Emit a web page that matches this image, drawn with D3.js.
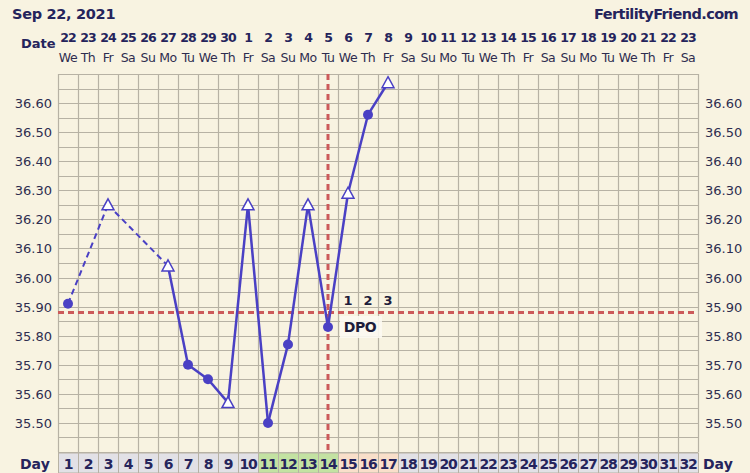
<!DOCTYPE html>
<html>
<head>
<meta charset="utf-8">
<script src="https://cdn.jsdelivr.net/npm/d3@7"></script>
<style>
  body { margin: 0; background: #f8f3e1; }
  svg { display: block; font-family: Verdana, "DejaVu Sans", sans-serif; }
</style>
</head>
<body>
<div id="chart"></div>
<script>
// chart data
const days = d3.range(1, 33);
const dateNums = ["22","23","24","25","26","27","28","29","30","1","2","3","4","5","6","7","8","9","10","11","12","13","14","15","16","17","18","19","20","21","22","23"];
const weekdays = ["We","Th","Fr","Sa","Su","Mo","Tu","We","Th","Fr","Sa","Su","Mo","Tu","We","Th","Fr","Sa","Su","Mo","Tu","We","Th","Fr","Sa","Su","Mo","Tu","We","Th","Fr","Sa"];
const tempDays = [1, 3, 6, 7, 8, 9, 10, 11, 12, 13, 14, 15, 16, 17];
const temps = [35.91, 36.25, 36.04, 35.70, 35.65, 35.57, 36.25, 35.50, 35.77, 36.25, 35.83, 36.29, 36.56, 36.67];
const markers = ["dot", "tri", "tri", "dot", "dot", "tri", "tri", "dot", "dot", "tri", "dot", "tri", "dot", "tri"];
const yTicks = [35.5, 35.6, 35.7, 35.8, 35.9, 36.0, 36.1, 36.2, 36.3, 36.4, 36.5, 36.6];
const coverline = 35.88;
const ovulationDay = 14;
const dpoDays = [15, 16, 17];
const dpoLabels = ["1", "2", "3"];
const fertileDays = [11, 12, 13, 14];

const width = 750, height = 473;
const navy = "#25245c";
const lineColor = "#4a40c4";
const red = "#cc5a5a";

const svg = d3.select("#chart").append("svg").attr("width", width).attr("height", height);
svg.append("rect").attr("width", width).attr("height", height).attr("fill", "#f8f3e1");

const x = d3.scaleBand().domain(days).range([58, 698]);
const y = d3.scaleLinear().domain([35.40, 36.70]).range([452, 74]);

// grid
const grid = svg.append("g").attr("stroke", "#b7b2a4").attr("stroke-width", 1.2);
d3.range(0, 33).forEach(i => {
  const gx = 58 + i * x.bandwidth() + 0.5;
  grid.append("line").attr("x1", gx).attr("x2", gx).attr("y1", 74).attr("y2", 452);
});
d3.range(35.40, 36.701, 0.05).forEach(v => {
  const gy = Math.round(y(v)) + 0.5;
  grid.append("line").attr("x1", 58).attr("x2", 698).attr("y1", gy).attr("y2", gy);
});

// y labels both sides
yTicks.forEach(v => {
  svg.append("text").attr("x", 52).attr("y", y(v) + 5).attr("text-anchor", "end")
    .attr("font-size", 13).attr("fill", "#2e2d4f").text(v.toFixed(2));
  svg.append("text").attr("x", 705).attr("y", y(v) + 5)
    .attr("font-size", 13).attr("fill", "#2e2d4f").text(v.toFixed(2));
});

// header
svg.append("text").attr("x", 12).attr("y", 19).attr("font-size", 14.5).attr("font-weight", "bold")
  .attr("letter-spacing", -0.3).attr("fill", navy).text("Sep 22, 2021");
svg.append("text").attr("x", 738).attr("y", 19).attr("font-size", 14.5).attr("font-weight", "bold")
  .attr("letter-spacing", -0.6).attr("text-anchor", "end").attr("fill", navy).text("FertilityFriend.com");
svg.append("text").attr("x", 21).attr("y", 48).attr("font-size", 13).attr("font-weight", "bold")
  .attr("fill", navy).text("Date");
days.forEach((d, i) => {
  const cx = x(d) + x.bandwidth() / 2;
  svg.append("text").attr("x", cx).attr("y", 42).attr("text-anchor", "middle")
    .attr("font-size", 12.5).attr("font-weight", "bold").attr("letter-spacing", -1).attr("fill", navy).text(dateNums[i]);
  svg.append("text").attr("x", cx).attr("y", 62).attr("text-anchor", "middle")
    .attr("font-size", 12.5).attr("letter-spacing", -0.5).attr("fill", "#2e2d4f").text(weekdays[i]);
});

// day row
days.forEach(d => {
  let fill = "#e2e1e6";
  if (fertileDays.includes(d)) fill = "#c3e2a2";
  else if (dpoDays.includes(d)) fill = "#f9dfca";
  svg.append("rect").attr("x", x(d) + 0.5).attr("y", 453).attr("width", x.bandwidth()).attr("height", 20)
    .attr("fill", fill).attr("stroke", "#b7b2a4");
  svg.append("text").attr("x", x(d) + x.bandwidth() / 2).attr("y", 469).attr("text-anchor", "middle")
    .attr("font-size", 14).attr("font-weight", "bold").attr("letter-spacing", -1.2).attr("fill", navy).text(d);
});
svg.append("text").attr("x", 20).attr("y", 469).attr("font-size", 14).attr("font-weight", "bold")
  .attr("fill", navy).text("Day");
svg.append("text").attr("x", 703).attr("y", 469).attr("font-size", 14).attr("font-weight", "bold")
  .attr("fill", navy).text("Day");

// coverline and ovulation line
svg.append("line").attr("x1", 58).attr("x2", 698).attr("y1", y(coverline)).attr("y2", y(coverline))
  .attr("stroke", red).attr("stroke-width", 3).attr("stroke-dasharray", "6,4");
const ovX = x(ovulationDay) + x.bandwidth() / 2;
svg.append("line").attr("x1", ovX).attr("x2", ovX).attr("y1", 74).attr("y2", 452)
  .attr("stroke", red).attr("stroke-width", 3).attr("stroke-dasharray", "6,4");

// DPO labels
dpoDays.forEach((d, i) => {
  svg.append("text").attr("x", x(d) + x.bandwidth() / 2).attr("y", 305).attr("text-anchor", "middle")
    .attr("font-size", 13).attr("font-weight", "bold").attr("fill", "#1e1d3a").text(dpoLabels[i]);
});
svg.append("rect").attr("x", x(15) + 2).attr("y", 316).attr("width", 42).attr("height", 22)
  .attr("fill", "#fcfaf2").attr("opacity", 0.9);
svg.append("text").attr("x", x(15) + 22).attr("y", 332).attr("text-anchor", "middle")
  .attr("font-size", 14).attr("font-weight", "bold").attr("letter-spacing", -0.5).attr("fill", "#1e1d3a").text("DPO");

// temperature line
const pts = tempDays.map((d, i) => ({ day: d, t: temps[i], m: markers[i] }));
const px = d => x(d.day) + x.bandwidth() / 2;
const line = d3.line().x(px).y(d => y(d.t));
const segs = [];
for (let i = 1; i < pts.length; i++) {
  segs.push({ a: pts[i - 1], b: pts[i], dashed: pts[i].day - pts[i - 1].day > 1 });
}
segs.forEach(s => {
  svg.append("path").attr("d", line([s.a, s.b])).attr("fill", "none")
    .attr("stroke", lineColor).attr("stroke-width", s.dashed ? 2 : 2.5)
    .attr("stroke-dasharray", s.dashed ? "6,4" : null);
});

// markers
pts.forEach(p => {
  const cx = px(p), cy = y(p.t);
  if (p.m === "dot") {
    svg.append("circle").attr("cx", cx).attr("cy", cy).attr("r", 5).attr("fill", lineColor);
  } else {
    svg.append("path").attr("d", `M${cx},${cy - 6} L${cx + 6},${cy + 5} L${cx - 6},${cy + 5} Z`)
      .attr("fill", "#ffffff").attr("stroke", lineColor).attr("stroke-width", 1.5);
  }
});
</script>
</body>
</html>
